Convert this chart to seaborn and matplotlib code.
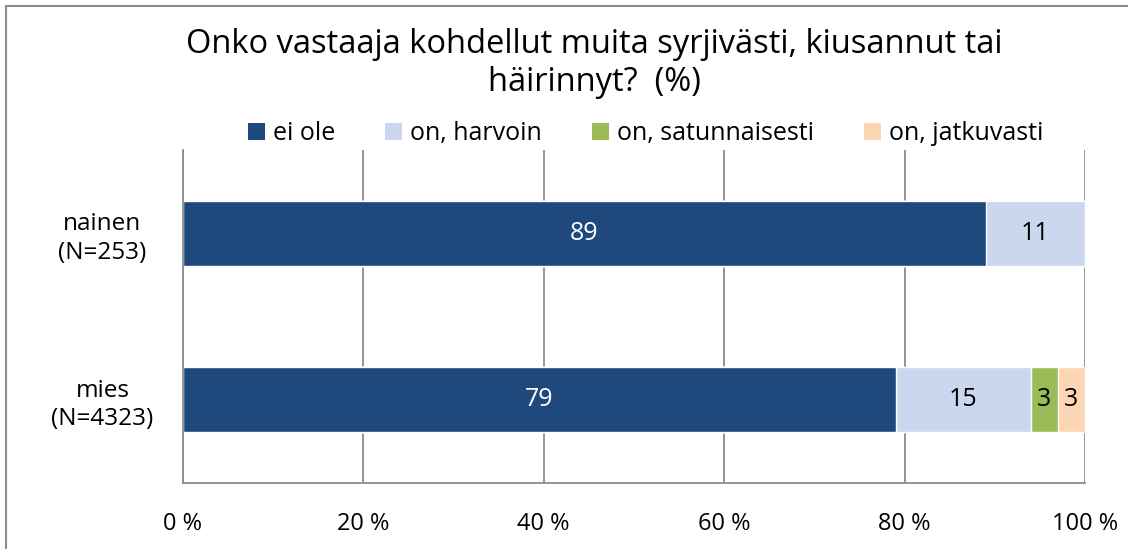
import numpy as np
import pandas as pd
import matplotlib
matplotlib.use("Agg")
import matplotlib.pyplot as plt
from matplotlib.patches import Patch, Rectangle
import seaborn as sns

categories = ["nainen\n(N=253)", "mies\n(N=4323)"]
series_names = ["ei ole", "on, harvoin", "on, satunnaisesti", "on, jatkuvasti"]
ei_ole = [89, 79]
harvoin = [11, 15]
satunnaisesti = [0, 3]
jatkuvasti = [0, 3]
colors = ["#1F497D", "#CAD7EE", "#9BBB59", "#FCD5B5"]
label_colors = ["white", "black", "black", "black"]
title = "Onko vastaaja kohdellut muita syrjivästi, kiusannut tai\nhäirinnyt?  (%)"

sns.set_theme(style="white")
plt.rcParams["font.family"] = ["Open Sans", "DejaVu Sans"]
plt.rcParams["text.color"] = "black"
plt.rcParams["xtick.color"] = "black"
plt.rcParams["ytick.color"] = "black"

values = np.array([ei_ole, harvoin, satunnaisesti, jatkuvasti], dtype=float)
cum = values.cumsum(axis=0)

fig = plt.figure(figsize=(11.28, 5.49), dpi=100)
ax = fig.add_axes([0.1622, 0.1202, 0.7996, 0.6066])

# stacked bars drawn as layered cumulative totals, widest first
for i in reversed(range(len(series_names))):
    df = pd.DataFrame({"cat": categories, "val": cum[i]})
    sns.barplot(data=df, x="val", y="cat", orient="h", color=colors[i],
                saturation=1, width=0.39, ax=ax, zorder=2)

for i in range(len(series_names)):
    for j in range(len(categories)):
        v = values[i, j]
        if v > 0:
            ax.text(cum[i, j] - v / 2, j, f"{v:.0f}", ha="center", va="center",
                    fontsize=18, color=label_colors[i], zorder=3)

ax.set_xlim(0, 100)
ax.set_ylim(1.5, -0.5)
ax.set_xticks(range(0, 101, 20))
ax.set_xticklabels([f"{t} %" for t in range(0, 101, 20)], fontsize=17)
ax.set_yticks(range(len(categories)))
ax.set_yticklabels(categories, fontsize=17.5, ha="center", linespacing=1.25)
ax.tick_params(axis="y", pad=58, length=0)
ax.tick_params(axis="x", pad=21, length=0)
ax.set_xlabel("")
ax.set_ylabel("")
ax.grid(axis="x", color="#8C8C8C", linewidth=1.3, zorder=0)
ax.set_axisbelow(True)
for s in ["top", "right"]:
    ax.spines[s].set_visible(False)
for s in ["left", "bottom"]:
    ax.spines[s].set_color("#8C8C8C")
    ax.spines[s].set_linewidth(1.3)

handles = [Patch(facecolor=c, edgecolor="none") for c in colors]
fig.legend(handles, series_names, loc="center", bbox_to_anchor=(0.572, 0.756),
           ncol=4, frameon=False, fontsize=18, handlelength=0.7, handleheight=0.7,
           handletextpad=0.3, columnspacing=2.0)

fig.text(0.527, 0.884, title, ha="center", va="center", fontsize=23.5, linespacing=1.2)

fig.patches.append(Rectangle((6 / 1128, -0.1), 1.2, (549 - 6) / 549 + 0.1,
                             transform=fig.transFigure, fill=False,
                             edgecolor="#8C8C8C", linewidth=1.5, zorder=0))

fig.savefig("out.png", dpi=100)
